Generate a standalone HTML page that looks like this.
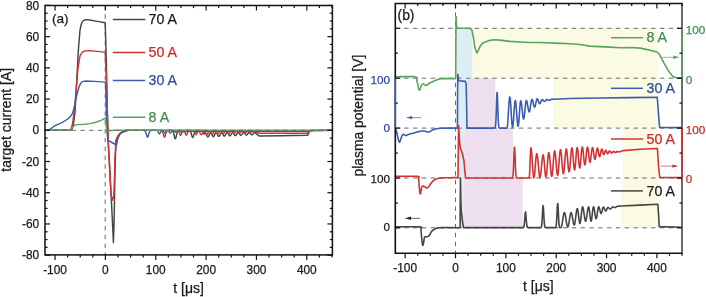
<!DOCTYPE html>
<html><head><meta charset="utf-8"><style>
html,body{margin:0;padding:0;background:#fff;width:706px;height:297px;overflow:hidden}
svg{position:absolute;left:0;top:0;font-family:"Liberation Sans", sans-serif;opacity:0.999;will-change:transform}
</style></head><body>
<svg width="706" height="297" viewBox="0 0 706 297">
<line x1="105.2" y1="5.5" x2="105.2" y2="254.9" stroke="#6a6a6a" stroke-width="1.0" stroke-dasharray="4.5 4.32"/>
<path d="M45.00,130.30 L70.50,130.30 L72.00,129.20 L73.50,124.00 L75.00,112.00 L77.00,75.00 L78.50,48.00 L80.00,30.00 L81.50,23.50 L83.00,20.80 L85.00,19.80 L88.00,19.80 L96.00,21.10 L105.20,22.80 L106.30,60.00 L107.30,110.00 L108.30,142.70 L109.30,160.00 L110.50,185.00 L111.60,205.00 L112.60,225.00 L113.40,242.60 L114.00,225.00 L114.50,200.00 L114.90,175.00 L115.50,155.00 L116.20,142.00 L117.70,136.80 L120.60,133.00 L126.00,130.80 L126.50,130.35 L127.00,130.35 L127.50,130.35 L128.00,130.35 L128.50,130.35 L129.00,130.35 L129.50,130.35 L130.00,130.35 L130.50,130.35 L131.00,130.35 L131.50,130.35 L132.00,130.35 L132.50,130.35 L133.00,130.35 L133.50,130.35 L134.00,130.35 L134.50,130.35 L135.00,130.35 L135.50,130.35 L136.00,130.35 L136.50,130.35 L137.00,130.35 L137.50,130.35 L138.00,130.35 L138.50,130.35 L139.00,130.35 L139.50,130.35 L140.00,130.35 L140.50,130.35 L141.00,130.35 L141.50,130.35 L142.00,130.35 L142.50,130.35 L143.00,130.35 L143.50,130.35 L144.00,130.35 L144.50,130.35 L145.00,130.35 L145.50,130.35 L146.00,130.35 L146.50,130.35 L147.00,130.35 L147.50,130.35 L148.00,130.35 L148.50,130.35 L149.00,130.35 L149.50,130.35 L150.00,130.35 L150.50,130.35 L151.00,130.35 L151.50,130.35 L152.00,130.35 L152.50,130.35 L153.00,130.35 L153.50,130.35 L154.00,130.35 L154.50,130.35 L155.00,130.35 L155.50,130.35 L156.00,130.35 L156.50,130.35 L157.00,130.35 L157.50,130.35 L158.00,130.35 L158.50,130.35 L159.00,130.35 L159.50,130.35 L160.00,130.35 L160.50,130.35 L161.00,130.35 L161.50,130.35 L162.00,130.35 L162.50,130.35 L163.00,130.35 L163.50,130.35 L164.00,130.35 L164.50,130.35 L165.00,130.35 L165.50,130.35 L166.00,130.35 L166.50,130.35 L167.00,130.35 L167.50,130.35 L168.00,130.35 L168.50,130.35 L169.00,130.35 L169.50,130.35 L170.00,130.35 L170.50,130.35 L171.00,130.36 L171.50,130.38 L172.00,130.47 L172.50,130.75 L173.00,131.43 L173.50,132.75 L174.00,134.74 L174.50,136.97 L175.00,138.56 L175.50,138.72 L176.00,137.37 L176.50,135.19 L177.00,133.10 L177.50,131.63 L178.00,130.84 L178.50,130.51 L179.00,130.39 L179.50,130.36 L180.00,130.35 L180.50,130.35 L181.00,130.35 L181.50,130.35 L182.00,130.35 L182.50,130.35 L183.00,130.35 L183.50,130.35 L184.00,130.35 L184.50,130.35 L185.00,130.35 L185.50,130.35 L186.00,130.35 L186.50,130.35 L187.00,130.35 L187.50,130.35 L188.00,130.35 L188.50,130.36 L189.00,130.38 L189.50,130.48 L190.00,130.77 L190.50,131.44 L191.00,132.68 L191.50,134.45 L192.00,136.30 L192.50,137.44 L193.00,137.30 L193.50,135.96 L194.00,134.07 L194.50,132.38 L195.00,131.26 L195.50,130.69 L196.00,130.45 L196.50,130.38 L197.00,130.36 L197.50,130.35 L198.00,130.35 L198.50,130.35 L199.00,130.35 L199.50,130.35 L200.00,130.35 L200.50,130.35 L201.00,130.35 L201.50,130.35 L202.00,130.35 L202.50,130.35 L203.00,130.35 L203.50,130.35 L204.00,130.35 L204.00,134.28 L204.50,133.19 L205.00,132.63 L205.50,132.77 L206.00,133.56 L206.50,134.73 L207.00,135.90 L207.50,136.71 L208.00,136.89 L208.50,136.40 L209.00,135.39 L209.50,134.18 L210.00,133.15 L210.50,132.63 L211.00,132.76 L211.50,133.50 L212.00,134.60 L212.50,135.70 L213.00,136.46 L213.50,136.63 L214.00,136.17 L214.50,135.21 L215.00,134.08 L215.50,133.12 L216.00,132.63 L216.50,132.75 L217.00,133.44 L217.50,134.47 L218.00,135.50 L218.50,136.21 L219.00,136.37 L219.50,135.93 L220.00,135.04 L220.50,133.98 L221.00,133.08 L221.50,132.63 L222.00,132.74 L222.50,133.39 L223.00,134.34 L223.50,135.30 L224.00,135.96 L224.50,136.10 L225.00,135.70 L225.50,134.87 L226.00,133.88 L226.50,133.05 L227.00,132.62 L227.50,132.73 L228.00,133.33 L228.50,134.21 L229.00,135.10 L229.50,135.71 L230.00,135.84 L230.50,135.46 L231.00,134.70 L231.50,133.79 L232.00,133.02 L232.50,132.62 L233.00,132.72 L233.50,133.27 L234.00,134.09 L234.50,134.90 L235.00,135.46 L235.50,135.58 L236.00,135.23 L236.50,134.52 L237.00,133.69 L237.50,132.98 L238.00,132.62 L238.50,132.71 L239.00,133.21 L239.50,133.96 L240.00,134.70 L240.50,135.20 L241.00,135.31 L241.50,134.99 L242.00,134.35 L242.50,133.59 L243.00,132.95 L243.50,132.62 L244.00,132.70 L244.50,133.16 L245.00,133.83 L245.50,134.50 L246.00,134.95 L246.50,135.05 L247.00,134.76 L247.50,134.18 L248.00,133.49 L248.50,132.91 L249.00,132.62 L249.50,132.69 L250.00,133.10 L250.50,133.70 L251.00,134.30 L251.50,134.70 L252.00,134.79 L252.50,134.52 L253.00,134.00 L253.50,133.39 L254.00,132.88 L254.50,132.62 L255.00,132.68 L255.50,133.04 L256.00,133.57 L259.00,136.00 L280.00,135.80 L307.50,135.30 L308.60,133.50 L309.40,131.00 L312.00,130.40 L332.40,130.30" fill="none" stroke="#454545" stroke-width="1.45" stroke-linejoin="round" stroke-linecap="round" />
<path d="M45.00,130.30 L69.40,130.30 L71.00,129.30 L72.50,124.00 L74.00,113.00 L76.00,92.00 L78.00,68.00 L80.00,56.00 L82.00,52.30 L85.00,50.90 L90.00,50.60 L100.00,51.60 L105.20,52.40 L106.20,75.00 L107.20,110.00 L108.20,142.70 L109.20,160.00 L110.30,180.00 L111.20,195.00 L112.50,200.30 L113.80,196.00 L114.40,180.00 L114.90,160.00 L115.90,140.30 L117.70,136.20 L120.60,132.70 L125.00,130.90 L125.50,130.35 L126.00,130.35 L126.50,130.35 L127.00,130.35 L127.50,130.35 L128.00,130.35 L128.50,130.35 L129.00,130.35 L129.50,130.35 L130.00,130.35 L130.50,130.35 L131.00,130.35 L131.50,130.35 L132.00,130.35 L132.50,130.35 L133.00,130.35 L133.50,130.35 L134.00,130.35 L134.50,130.35 L135.00,130.35 L135.50,130.35 L136.00,130.35 L136.50,130.35 L137.00,130.35 L137.50,130.35 L138.00,130.35 L138.50,130.35 L139.00,130.35 L139.50,130.35 L140.00,130.35 L140.50,130.35 L141.00,130.35 L141.50,130.35 L142.00,130.35 L142.50,130.35 L143.00,130.35 L143.50,130.35 L144.00,130.35 L144.50,130.35 L145.00,130.35 L145.50,130.35 L146.00,130.35 L146.50,130.35 L147.00,130.35 L147.50,130.35 L148.00,130.35 L148.50,130.35 L149.00,130.35 L149.50,130.35 L150.00,130.35 L150.50,130.35 L151.00,130.35 L151.50,130.35 L152.00,130.35 L152.50,130.35 L153.00,130.35 L153.50,130.35 L154.00,130.35 L154.50,130.35 L155.00,130.35 L155.50,130.35 L156.00,130.35 L156.50,130.35 L157.00,130.35 L157.50,130.35 L158.00,130.35 L158.50,130.35 L159.00,130.35 L159.50,130.35 L160.00,130.35 L160.50,130.36 L161.00,130.38 L161.50,130.47 L162.00,130.77 L162.50,131.50 L163.00,132.85 L163.50,134.71 L164.00,136.43 L164.50,137.15 L165.00,136.43 L165.50,134.71 L166.00,132.85 L166.50,131.50 L167.00,130.77 L167.50,130.47 L168.00,130.38 L168.50,130.36 L169.00,130.35 L169.50,130.35 L170.00,130.35 L170.50,130.35 L171.00,130.35 L171.50,130.35 L172.00,130.35 L172.50,130.35 L173.00,130.35 L173.50,130.35 L174.00,130.35 L174.50,130.35 L175.00,130.35 L175.50,130.35 L176.00,130.35 L176.50,130.35 L177.00,130.37 L177.50,130.42 L178.00,130.60 L178.50,131.05 L179.00,131.95 L179.50,133.27 L180.00,134.61 L180.50,135.33 L181.00,135.01 L181.50,133.84 L182.00,132.44 L182.50,131.36 L183.00,130.77 L183.50,130.62 L184.00,130.84 L184.50,131.49 L185.00,132.62 L185.50,133.96 L186.00,134.96 L186.50,135.07 L187.00,134.21 L187.50,132.88 L188.00,131.68 L188.50,130.91 L189.00,130.54 L189.50,130.40 L190.00,130.36 L190.50,130.35 L191.00,130.35 L191.50,130.35 L192.00,130.35 L192.50,130.35 L193.00,130.35 L193.50,130.35 L194.00,130.35 L194.50,130.35 L195.00,130.35 L195.50,130.35 L196.00,130.35 L196.00,134.72 L196.50,134.09 L197.00,133.06 L197.50,131.95 L198.00,131.11 L198.50,130.80 L199.00,131.11 L199.50,131.93 L200.00,132.99 L200.50,133.95 L201.00,134.51 L201.50,134.49 L202.00,133.90 L202.50,132.93 L203.00,131.88 L203.50,131.09 L204.00,130.80 L204.50,131.09 L205.00,131.86 L205.50,132.86 L206.00,133.76 L206.50,134.29 L207.00,134.27 L207.50,133.71 L208.00,132.80 L208.50,131.82 L209.00,131.07 L209.50,130.80 L210.00,131.07 L210.50,131.79 L211.00,132.73 L211.50,133.58 L212.00,134.07 L212.50,134.05 L213.00,133.52 L213.50,132.67 L214.00,131.75 L214.50,131.06 L215.00,130.80 L215.50,131.05 L216.00,131.73 L216.50,132.60 L217.00,133.39 L217.50,133.84 L218.00,133.82 L218.50,133.33 L219.00,132.54 L219.50,131.68 L220.00,131.04 L220.50,130.80 L221.00,131.03 L221.50,131.66 L222.00,132.47 L222.50,133.20 L223.00,133.62 L223.50,133.60 L224.00,133.14 L224.50,132.41 L225.00,131.62 L225.50,131.02 L226.00,130.80 L226.50,131.02 L227.00,131.59 L227.50,132.33 L228.00,133.01 L228.50,133.39 L229.00,133.37 L229.50,132.95 L230.00,132.28 L230.50,131.55 L231.00,131.00 L231.50,130.80 L232.00,131.00 L232.50,131.52 L233.00,132.20 L233.50,132.82 L234.00,133.17 L234.50,133.15 L235.00,132.77 L235.50,132.14 L236.00,131.48 L236.50,130.98 L237.00,130.80 L237.50,130.98 L238.00,131.46 L238.50,132.07 L239.00,132.63 L239.50,132.94 L240.00,132.92 L240.50,132.58 L241.00,132.01 L241.50,131.42 L242.00,130.97 L242.50,130.80 L243.00,130.96 L243.50,131.39 L244.00,131.94 L244.50,132.44 L245.00,132.72 L245.50,132.70 L246.00,132.39 L246.50,131.88 L247.00,131.35 L247.50,130.95 L248.00,130.80 L248.50,130.94 L249.00,131.32 L249.50,131.81 L250.00,132.25 L250.50,132.49 L251.00,132.47 L251.50,132.20 L252.00,131.75 L252.50,131.28 L253.00,130.93 L253.50,130.80 L254.00,130.93 L254.50,131.26 L255.00,131.68 L255.50,132.06 L256.00,132.27 L259.00,133.20 L280.00,133.20 L307.50,133.20 L309.00,130.80 L332.40,130.40" fill="none" stroke="#d23232" stroke-width="1.45" stroke-linejoin="round" stroke-linecap="round" />
<path d="M45.00,130.30 L47.00,130.30 L49.00,130.00 L51.00,128.60 L53.00,127.00 L55.00,125.70 L58.00,124.30 L62.00,122.60 L67.00,119.50 L70.00,117.00 L72.40,113.60 L74.00,108.30 L75.60,100.60 L77.30,93.00 L78.90,87.50 L80.50,83.60 L82.20,81.60 L86.00,81.00 L95.00,81.40 L104.80,82.10 L105.70,84.00 L106.50,118.00 L107.30,135.00 L108.00,140.30 L112.00,142.50 L116.50,145.00 L117.70,139.10 L120.00,133.80 L122.40,132.00 L126.00,131.00 L128.00,130.60 L128.50,130.35 L129.00,130.35 L129.50,130.35 L130.00,130.35 L130.50,130.35 L131.00,130.35 L131.50,130.35 L132.00,130.35 L132.50,130.35 L133.00,130.35 L133.50,130.35 L134.00,130.35 L134.50,130.35 L135.00,130.35 L135.50,130.35 L136.00,130.35 L136.50,130.35 L137.00,130.35 L137.50,130.35 L138.00,130.35 L138.50,130.35 L139.00,130.35 L139.50,130.35 L140.00,130.35 L140.50,130.35 L141.00,130.35 L141.50,130.35 L142.00,130.35 L142.50,130.35 L143.00,130.35 L143.50,130.36 L144.00,130.41 L144.50,130.55 L145.00,130.94 L145.50,131.78 L146.00,133.17 L146.50,134.95 L147.00,136.52 L147.50,137.15 L148.00,136.52 L148.50,134.95 L149.00,133.17 L149.50,131.78 L150.00,130.94 L150.50,130.55 L151.00,130.41 L151.50,130.36 L152.00,130.35 L152.50,130.35 L153.00,130.35 L153.50,130.35 L154.00,130.35 L154.50,130.35 L155.00,130.35 L155.50,130.35 L156.00,130.36 L156.50,130.39 L157.00,130.50 L157.50,130.82 L158.00,131.49 L158.50,132.51 L159.00,133.52 L159.50,133.95 L160.00,133.52 L160.50,132.53 L161.00,131.54 L161.50,130.89 L162.00,130.63 L162.50,130.68 L163.00,131.02 L163.50,131.68 L164.00,132.47 L164.50,132.94 L165.00,132.76 L165.50,132.08 L166.00,131.37 L166.50,130.93 L167.00,130.75 L167.50,130.73 L168.00,130.84 L168.50,131.13 L169.00,131.69 L169.50,132.42 L170.00,132.95 L170.50,132.91 L171.00,132.35 L171.50,131.68 L172.00,131.21 L172.50,131.01 L173.00,130.96 L173.50,130.99 L174.00,131.09 L174.50,131.32 L175.00,131.69 L175.50,132.08 L176.00,132.27 L176.50,132.13 L177.00,131.78 L177.50,131.45 L178.00,131.27 L178.50,131.21 L179.00,131.22 L179.50,131.25 L180.00,131.34 L180.50,131.51 L181.00,131.80 L181.50,132.11 L182.00,132.25 L182.50,132.11 L183.00,131.80 L183.50,131.51 L184.00,131.34 L184.50,131.27 L185.00,131.25 L185.50,131.25 L186.00,131.25 L186.50,131.25 L187.00,131.25 L187.50,131.25 L188.00,131.25 L188.50,131.25 L189.00,131.25 L189.50,131.25 L190.00,131.25 L190.50,131.25 L191.00,131.25 L191.50,131.25 L192.00,131.25 L192.50,131.25 L193.00,131.25 L193.50,131.25 L194.00,131.25 L194.50,131.25 L195.00,131.25 L195.50,131.25 L196.00,131.25 L196.50,131.25 L197.00,131.25 L197.50,131.25 L198.00,131.25 L198.50,131.25 L199.00,131.25 L199.50,131.25 L200.00,131.25 L200.50,131.25 L201.00,131.25 L201.50,131.25 L202.00,131.25 L202.50,131.25 L203.00,131.25 L203.50,131.25 L204.00,131.25 L204.50,131.25 L205.00,131.25 L205.50,131.25 L206.00,131.25 L206.50,131.25 L207.00,131.25 L207.50,131.25 L208.00,131.25 L208.50,131.25 L209.00,131.25 L209.50,131.25 L210.00,131.25 L210.50,131.25 L211.00,131.25 L211.50,131.25 L212.00,131.25 L212.50,131.25 L213.00,131.25 L213.50,131.25 L214.00,131.25 L214.50,131.25 L215.00,131.25 L215.50,131.25 L216.00,131.25 L216.50,131.25 L217.00,131.25 L217.50,131.25 L218.00,131.25 L218.50,131.25 L219.00,131.25 L219.50,131.25 L220.00,131.25 L220.50,131.25 L221.00,131.25 L221.50,131.25 L222.00,131.25 L222.50,131.25 L223.00,131.25 L223.50,131.25 L224.00,131.25 L224.50,131.25 L225.00,131.25 L225.50,131.25 L226.00,131.25 L226.50,131.25 L227.00,131.25 L227.50,131.25 L228.00,131.25 L228.50,131.25 L229.00,131.25 L229.50,131.25 L230.00,131.25 L230.50,131.25 L231.00,131.25 L231.50,131.25 L232.00,131.25 L232.50,131.25 L233.00,131.25 L233.50,131.25 L234.00,131.25 L234.50,131.25 L235.00,131.25 L235.50,131.25 L236.00,131.25 L236.50,131.25 L237.00,131.25 L237.50,131.25 L238.00,131.25 L238.50,131.25 L239.00,131.25 L239.50,131.25 L240.00,131.25 L240.50,131.25 L241.00,131.25 L241.50,131.25 L242.00,131.25 L242.50,131.25 L243.00,131.25 L243.50,131.25 L244.00,131.25 L244.50,131.25 L245.00,131.25 L245.50,131.25 L246.00,131.25 L246.50,131.25 L247.00,131.25 L247.50,131.25 L248.00,131.25 L248.50,131.25 L249.00,131.25 L249.50,131.25 L250.00,131.25 L250.50,131.25 L251.00,131.25 L251.50,131.25 L252.00,131.25 L252.50,131.25 L253.00,131.25 L253.50,131.25 L254.00,131.25 L254.50,131.25 L255.00,131.25 L255.50,131.25 L256.00,131.25 L256.50,131.25 L257.00,131.25 L257.50,131.25 L258.00,131.25 L258.50,131.25 L259.00,131.25 L259.50,131.25 L260.00,131.25 L260.50,131.25 L261.00,131.25 L261.50,131.25 L262.00,131.25 L262.50,131.25 L263.00,131.25 L263.50,131.25 L264.00,131.25 L264.50,131.25 L265.00,131.25 L265.50,131.25 L266.00,131.25 L266.50,131.25 L267.00,131.25 L267.50,131.25 L268.00,131.25 L268.50,131.25 L269.00,131.25 L269.50,131.25 L270.00,131.25 L270.50,131.25 L271.00,131.25 L271.50,131.25 L272.00,131.25 L272.50,131.25 L273.00,131.25 L273.50,131.25 L274.00,131.25 L274.50,131.25 L275.00,131.25 L275.50,131.25 L276.00,131.25 L276.50,131.25 L277.00,131.25 L277.50,131.25 L278.00,131.25 L278.50,131.25 L279.00,131.25 L279.50,131.25 L280.00,131.25 L280.50,131.25 L281.00,131.25 L281.50,131.25 L282.00,131.25 L282.50,131.25 L283.00,131.25 L283.50,131.25 L284.00,131.25 L284.50,131.25 L285.00,131.25 L285.50,131.25 L286.00,131.25 L286.50,131.25 L287.00,131.25 L287.50,131.25 L288.00,131.25 L288.50,131.25 L289.00,131.25 L289.50,131.25 L290.00,131.25 L290.50,131.25 L291.00,131.25 L291.50,131.25 L292.00,131.25 L292.50,131.25 L293.00,131.25 L293.50,131.25 L294.00,131.25 L294.50,131.25 L295.00,131.25 L295.50,131.25 L296.00,131.25 L296.50,131.25 L297.00,131.25 L297.50,131.25 L298.00,131.25 L298.50,131.25 L299.00,131.25 L299.50,131.25 L300.00,131.25 L300.50,131.25 L301.00,131.25 L301.50,131.25 L302.00,131.25 L302.50,131.25 L303.00,131.25 L303.50,131.25 L304.00,131.25 L304.50,131.25 L305.00,131.25 L305.50,131.25 L306.00,131.25 L306.50,131.25 L307.00,131.25 L307.50,131.25 L309.00,130.60 L332.40,130.30" fill="none" stroke="#3c5cb0" stroke-width="1.45" stroke-linejoin="round" stroke-linecap="round" />
<path d="M45.00,130.30 L68.60,130.30 L70.50,129.50 L72.50,127.30 L74.50,125.50 L77.00,124.60 L85.00,124.30 L90.00,123.60 L95.00,122.50 L100.00,120.80 L103.00,119.30 L104.90,118.10 L105.70,119.50 L106.20,126.00 L106.70,130.90 L110.00,130.60 L115.00,130.30 L332.40,130.30" fill="none" stroke="#5aa45e" stroke-width="1.45" stroke-linejoin="round" stroke-linecap="round" />
<line x1="45.0" y1="130.3" x2="332.4" y2="130.3" stroke="#6a6a6a" stroke-width="1.0" stroke-dasharray="4.5 4.32"/>
<line x1="112.8" y1="19.5" x2="145.3" y2="19.5" stroke="#454545" stroke-width="1.5" />
<text x="148.6" y="24.1" font-size="14.2" fill="#1a1a1a" stroke="#1a1a1a" stroke-width="0.25" text-anchor="start" >70 A</text>
<line x1="112.8" y1="52.4" x2="145.3" y2="52.4" stroke="#d23232" stroke-width="1.5" />
<text x="148.6" y="57.0" font-size="14.2" fill="#d02828" stroke="#d02828" stroke-width="0.25" text-anchor="start" >50 A</text>
<line x1="112.8" y1="80.5" x2="145.3" y2="80.5" stroke="#3c5cb0" stroke-width="1.5" />
<text x="148.6" y="85.1" font-size="14.2" fill="#2f4aa2" stroke="#2f4aa2" stroke-width="0.25" text-anchor="start" >30 A</text>
<line x1="112.8" y1="117.3" x2="145.3" y2="117.3" stroke="#5aa45e" stroke-width="1.5" />
<text x="148.6" y="121.89999999999999" font-size="14.2" fill="#3f8c46" stroke="#3f8c46" stroke-width="0.25" text-anchor="start" >8 A</text>
<text x="52.0" y="22.6" font-size="13.6" fill="#1a1a1a" stroke="#1a1a1a" stroke-width="0.25" text-anchor="start" >(a)</text>
<rect x="45.0" y="5.5" width="287.4" height="249.4" fill="none" stroke="#111111" stroke-width="1.5"/>
<line x1="45.0" y1="255.18" x2="50.0" y2="255.18" stroke="#111111" stroke-width="1.2" />
<line x1="332.4" y1="255.18" x2="327.4" y2="255.18" stroke="#111111" stroke-width="1.2" />
<line x1="45.0" y1="247.375" x2="47.6" y2="247.375" stroke="#111111" stroke-width="1.2" />
<line x1="332.4" y1="247.375" x2="329.79999999999995" y2="247.375" stroke="#111111" stroke-width="1.2" />
<line x1="45.0" y1="239.57" x2="47.6" y2="239.57" stroke="#111111" stroke-width="1.2" />
<line x1="332.4" y1="239.57" x2="329.79999999999995" y2="239.57" stroke="#111111" stroke-width="1.2" />
<line x1="45.0" y1="231.76500000000001" x2="47.6" y2="231.76500000000001" stroke="#111111" stroke-width="1.2" />
<line x1="332.4" y1="231.76500000000001" x2="329.79999999999995" y2="231.76500000000001" stroke="#111111" stroke-width="1.2" />
<line x1="45.0" y1="223.96" x2="50.0" y2="223.96" stroke="#111111" stroke-width="1.2" />
<line x1="332.4" y1="223.96" x2="327.4" y2="223.96" stroke="#111111" stroke-width="1.2" />
<line x1="45.0" y1="216.155" x2="47.6" y2="216.155" stroke="#111111" stroke-width="1.2" />
<line x1="332.4" y1="216.155" x2="329.79999999999995" y2="216.155" stroke="#111111" stroke-width="1.2" />
<line x1="45.0" y1="208.35000000000002" x2="47.6" y2="208.35000000000002" stroke="#111111" stroke-width="1.2" />
<line x1="332.4" y1="208.35000000000002" x2="329.79999999999995" y2="208.35000000000002" stroke="#111111" stroke-width="1.2" />
<line x1="45.0" y1="200.54500000000002" x2="47.6" y2="200.54500000000002" stroke="#111111" stroke-width="1.2" />
<line x1="332.4" y1="200.54500000000002" x2="329.79999999999995" y2="200.54500000000002" stroke="#111111" stroke-width="1.2" />
<line x1="45.0" y1="192.74" x2="50.0" y2="192.74" stroke="#111111" stroke-width="1.2" />
<line x1="332.4" y1="192.74" x2="327.4" y2="192.74" stroke="#111111" stroke-width="1.2" />
<line x1="45.0" y1="184.935" x2="47.6" y2="184.935" stroke="#111111" stroke-width="1.2" />
<line x1="332.4" y1="184.935" x2="329.79999999999995" y2="184.935" stroke="#111111" stroke-width="1.2" />
<line x1="45.0" y1="177.13" x2="47.6" y2="177.13" stroke="#111111" stroke-width="1.2" />
<line x1="332.4" y1="177.13" x2="329.79999999999995" y2="177.13" stroke="#111111" stroke-width="1.2" />
<line x1="45.0" y1="169.32500000000002" x2="47.6" y2="169.32500000000002" stroke="#111111" stroke-width="1.2" />
<line x1="332.4" y1="169.32500000000002" x2="329.79999999999995" y2="169.32500000000002" stroke="#111111" stroke-width="1.2" />
<line x1="45.0" y1="161.52" x2="50.0" y2="161.52" stroke="#111111" stroke-width="1.2" />
<line x1="332.4" y1="161.52" x2="327.4" y2="161.52" stroke="#111111" stroke-width="1.2" />
<line x1="45.0" y1="153.715" x2="47.6" y2="153.715" stroke="#111111" stroke-width="1.2" />
<line x1="332.4" y1="153.715" x2="329.79999999999995" y2="153.715" stroke="#111111" stroke-width="1.2" />
<line x1="45.0" y1="145.91000000000003" x2="47.6" y2="145.91000000000003" stroke="#111111" stroke-width="1.2" />
<line x1="332.4" y1="145.91000000000003" x2="329.79999999999995" y2="145.91000000000003" stroke="#111111" stroke-width="1.2" />
<line x1="45.0" y1="138.10500000000002" x2="47.6" y2="138.10500000000002" stroke="#111111" stroke-width="1.2" />
<line x1="332.4" y1="138.10500000000002" x2="329.79999999999995" y2="138.10500000000002" stroke="#111111" stroke-width="1.2" />
<line x1="45.0" y1="130.3" x2="50.0" y2="130.3" stroke="#111111" stroke-width="1.2" />
<line x1="332.4" y1="130.3" x2="327.4" y2="130.3" stroke="#111111" stroke-width="1.2" />
<line x1="45.0" y1="122.495" x2="47.6" y2="122.495" stroke="#111111" stroke-width="1.2" />
<line x1="332.4" y1="122.495" x2="329.79999999999995" y2="122.495" stroke="#111111" stroke-width="1.2" />
<line x1="45.0" y1="114.69000000000001" x2="47.6" y2="114.69000000000001" stroke="#111111" stroke-width="1.2" />
<line x1="332.4" y1="114.69000000000001" x2="329.79999999999995" y2="114.69000000000001" stroke="#111111" stroke-width="1.2" />
<line x1="45.0" y1="106.88500000000002" x2="47.6" y2="106.88500000000002" stroke="#111111" stroke-width="1.2" />
<line x1="332.4" y1="106.88500000000002" x2="329.79999999999995" y2="106.88500000000002" stroke="#111111" stroke-width="1.2" />
<line x1="45.0" y1="99.08000000000001" x2="50.0" y2="99.08000000000001" stroke="#111111" stroke-width="1.2" />
<line x1="332.4" y1="99.08000000000001" x2="327.4" y2="99.08000000000001" stroke="#111111" stroke-width="1.2" />
<line x1="45.0" y1="91.275" x2="47.6" y2="91.275" stroke="#111111" stroke-width="1.2" />
<line x1="332.4" y1="91.275" x2="329.79999999999995" y2="91.275" stroke="#111111" stroke-width="1.2" />
<line x1="45.0" y1="83.47000000000001" x2="47.6" y2="83.47000000000001" stroke="#111111" stroke-width="1.2" />
<line x1="332.4" y1="83.47000000000001" x2="329.79999999999995" y2="83.47000000000001" stroke="#111111" stroke-width="1.2" />
<line x1="45.0" y1="75.66500000000002" x2="47.6" y2="75.66500000000002" stroke="#111111" stroke-width="1.2" />
<line x1="332.4" y1="75.66500000000002" x2="329.79999999999995" y2="75.66500000000002" stroke="#111111" stroke-width="1.2" />
<line x1="45.0" y1="67.86000000000001" x2="50.0" y2="67.86000000000001" stroke="#111111" stroke-width="1.2" />
<line x1="332.4" y1="67.86000000000001" x2="327.4" y2="67.86000000000001" stroke="#111111" stroke-width="1.2" />
<line x1="45.0" y1="60.05500000000001" x2="47.6" y2="60.05500000000001" stroke="#111111" stroke-width="1.2" />
<line x1="332.4" y1="60.05500000000001" x2="329.79999999999995" y2="60.05500000000001" stroke="#111111" stroke-width="1.2" />
<line x1="45.0" y1="52.250000000000014" x2="47.6" y2="52.250000000000014" stroke="#111111" stroke-width="1.2" />
<line x1="332.4" y1="52.250000000000014" x2="329.79999999999995" y2="52.250000000000014" stroke="#111111" stroke-width="1.2" />
<line x1="45.0" y1="44.44500000000002" x2="47.6" y2="44.44500000000002" stroke="#111111" stroke-width="1.2" />
<line x1="332.4" y1="44.44500000000002" x2="329.79999999999995" y2="44.44500000000002" stroke="#111111" stroke-width="1.2" />
<line x1="45.0" y1="36.640000000000015" x2="50.0" y2="36.640000000000015" stroke="#111111" stroke-width="1.2" />
<line x1="332.4" y1="36.640000000000015" x2="327.4" y2="36.640000000000015" stroke="#111111" stroke-width="1.2" />
<line x1="45.0" y1="28.835000000000008" x2="47.6" y2="28.835000000000008" stroke="#111111" stroke-width="1.2" />
<line x1="332.4" y1="28.835000000000008" x2="329.79999999999995" y2="28.835000000000008" stroke="#111111" stroke-width="1.2" />
<line x1="45.0" y1="21.030000000000015" x2="47.6" y2="21.030000000000015" stroke="#111111" stroke-width="1.2" />
<line x1="332.4" y1="21.030000000000015" x2="329.79999999999995" y2="21.030000000000015" stroke="#111111" stroke-width="1.2" />
<line x1="45.0" y1="13.225000000000023" x2="47.6" y2="13.225000000000023" stroke="#111111" stroke-width="1.2" />
<line x1="332.4" y1="13.225000000000023" x2="329.79999999999995" y2="13.225000000000023" stroke="#111111" stroke-width="1.2" />
<line x1="45.0" y1="5.420000000000016" x2="50.0" y2="5.420000000000016" stroke="#111111" stroke-width="1.2" />
<line x1="332.4" y1="5.420000000000016" x2="327.4" y2="5.420000000000016" stroke="#111111" stroke-width="1.2" />
<line x1="55.05000000000001" y1="254.9" x2="55.05000000000001" y2="259.9" stroke="#111111" stroke-width="1.2" />
<line x1="55.05000000000001" y1="5.5" x2="55.05000000000001" y2="10.5" stroke="#111111" stroke-width="1.2" />
<line x1="67.63750000000002" y1="254.9" x2="67.63750000000002" y2="257.5" stroke="#111111" stroke-width="1.2" />
<line x1="67.63750000000002" y1="5.5" x2="67.63750000000002" y2="8.1" stroke="#111111" stroke-width="1.2" />
<line x1="80.22500000000001" y1="254.9" x2="80.22500000000001" y2="257.5" stroke="#111111" stroke-width="1.2" />
<line x1="80.22500000000001" y1="5.5" x2="80.22500000000001" y2="8.1" stroke="#111111" stroke-width="1.2" />
<line x1="92.8125" y1="254.9" x2="92.8125" y2="257.5" stroke="#111111" stroke-width="1.2" />
<line x1="92.8125" y1="5.5" x2="92.8125" y2="8.1" stroke="#111111" stroke-width="1.2" />
<line x1="105.4" y1="254.9" x2="105.4" y2="259.9" stroke="#111111" stroke-width="1.2" />
<line x1="105.4" y1="5.5" x2="105.4" y2="10.5" stroke="#111111" stroke-width="1.2" />
<line x1="117.98750000000001" y1="254.9" x2="117.98750000000001" y2="257.5" stroke="#111111" stroke-width="1.2" />
<line x1="117.98750000000001" y1="5.5" x2="117.98750000000001" y2="8.1" stroke="#111111" stroke-width="1.2" />
<line x1="130.575" y1="254.9" x2="130.575" y2="257.5" stroke="#111111" stroke-width="1.2" />
<line x1="130.575" y1="5.5" x2="130.575" y2="8.1" stroke="#111111" stroke-width="1.2" />
<line x1="143.1625" y1="254.9" x2="143.1625" y2="257.5" stroke="#111111" stroke-width="1.2" />
<line x1="143.1625" y1="5.5" x2="143.1625" y2="8.1" stroke="#111111" stroke-width="1.2" />
<line x1="155.75" y1="254.9" x2="155.75" y2="259.9" stroke="#111111" stroke-width="1.2" />
<line x1="155.75" y1="5.5" x2="155.75" y2="10.5" stroke="#111111" stroke-width="1.2" />
<line x1="168.3375" y1="254.9" x2="168.3375" y2="257.5" stroke="#111111" stroke-width="1.2" />
<line x1="168.3375" y1="5.5" x2="168.3375" y2="8.1" stroke="#111111" stroke-width="1.2" />
<line x1="180.925" y1="254.9" x2="180.925" y2="257.5" stroke="#111111" stroke-width="1.2" />
<line x1="180.925" y1="5.5" x2="180.925" y2="8.1" stroke="#111111" stroke-width="1.2" />
<line x1="193.5125" y1="254.9" x2="193.5125" y2="257.5" stroke="#111111" stroke-width="1.2" />
<line x1="193.5125" y1="5.5" x2="193.5125" y2="8.1" stroke="#111111" stroke-width="1.2" />
<line x1="206.1" y1="254.9" x2="206.1" y2="259.9" stroke="#111111" stroke-width="1.2" />
<line x1="206.1" y1="5.5" x2="206.1" y2="10.5" stroke="#111111" stroke-width="1.2" />
<line x1="218.6875" y1="254.9" x2="218.6875" y2="257.5" stroke="#111111" stroke-width="1.2" />
<line x1="218.6875" y1="5.5" x2="218.6875" y2="8.1" stroke="#111111" stroke-width="1.2" />
<line x1="231.27499999999998" y1="254.9" x2="231.27499999999998" y2="257.5" stroke="#111111" stroke-width="1.2" />
<line x1="231.27499999999998" y1="5.5" x2="231.27499999999998" y2="8.1" stroke="#111111" stroke-width="1.2" />
<line x1="243.86249999999998" y1="254.9" x2="243.86249999999998" y2="257.5" stroke="#111111" stroke-width="1.2" />
<line x1="243.86249999999998" y1="5.5" x2="243.86249999999998" y2="8.1" stroke="#111111" stroke-width="1.2" />
<line x1="256.45" y1="254.9" x2="256.45" y2="259.9" stroke="#111111" stroke-width="1.2" />
<line x1="256.45" y1="5.5" x2="256.45" y2="10.5" stroke="#111111" stroke-width="1.2" />
<line x1="269.0375" y1="254.9" x2="269.0375" y2="257.5" stroke="#111111" stroke-width="1.2" />
<line x1="269.0375" y1="5.5" x2="269.0375" y2="8.1" stroke="#111111" stroke-width="1.2" />
<line x1="281.625" y1="254.9" x2="281.625" y2="257.5" stroke="#111111" stroke-width="1.2" />
<line x1="281.625" y1="5.5" x2="281.625" y2="8.1" stroke="#111111" stroke-width="1.2" />
<line x1="294.2125" y1="254.9" x2="294.2125" y2="257.5" stroke="#111111" stroke-width="1.2" />
<line x1="294.2125" y1="5.5" x2="294.2125" y2="8.1" stroke="#111111" stroke-width="1.2" />
<line x1="306.79999999999995" y1="254.9" x2="306.79999999999995" y2="259.9" stroke="#111111" stroke-width="1.2" />
<line x1="306.79999999999995" y1="5.5" x2="306.79999999999995" y2="10.5" stroke="#111111" stroke-width="1.2" />
<line x1="319.3875" y1="254.9" x2="319.3875" y2="257.5" stroke="#111111" stroke-width="1.2" />
<line x1="319.3875" y1="5.5" x2="319.3875" y2="8.1" stroke="#111111" stroke-width="1.2" />
<line x1="331.975" y1="254.9" x2="331.975" y2="257.5" stroke="#111111" stroke-width="1.2" />
<line x1="331.975" y1="5.5" x2="331.975" y2="8.1" stroke="#111111" stroke-width="1.2" />
<text x="39.2" y="259.28000000000003" font-size="11.9" fill="#1a1a1a" stroke="#1a1a1a" stroke-width="0.25" text-anchor="end" >-80</text>
<text x="39.2" y="228.06" font-size="11.9" fill="#1a1a1a" stroke="#1a1a1a" stroke-width="0.25" text-anchor="end" >-60</text>
<text x="39.2" y="196.84" font-size="11.9" fill="#1a1a1a" stroke="#1a1a1a" stroke-width="0.25" text-anchor="end" >-40</text>
<text x="39.2" y="165.62" font-size="11.9" fill="#1a1a1a" stroke="#1a1a1a" stroke-width="0.25" text-anchor="end" >-20</text>
<text x="39.2" y="134.4" font-size="11.9" fill="#1a1a1a" stroke="#1a1a1a" stroke-width="0.25" text-anchor="end" >0</text>
<text x="39.2" y="103.18" font-size="11.9" fill="#1a1a1a" stroke="#1a1a1a" stroke-width="0.25" text-anchor="end" >20</text>
<text x="39.2" y="71.96000000000001" font-size="11.9" fill="#1a1a1a" stroke="#1a1a1a" stroke-width="0.25" text-anchor="end" >40</text>
<text x="39.2" y="40.740000000000016" font-size="11.9" fill="#1a1a1a" stroke="#1a1a1a" stroke-width="0.25" text-anchor="end" >60</text>
<text x="39.2" y="9.520000000000016" font-size="11.9" fill="#1a1a1a" stroke="#1a1a1a" stroke-width="0.25" text-anchor="end" >80</text>
<text x="55.05000000000001" y="274.1" font-size="11.9" fill="#1a1a1a" stroke="#1a1a1a" stroke-width="0.25" text-anchor="middle" >-100</text>
<text x="105.4" y="274.1" font-size="11.9" fill="#1a1a1a" stroke="#1a1a1a" stroke-width="0.25" text-anchor="middle" >0</text>
<text x="155.75" y="274.1" font-size="11.9" fill="#1a1a1a" stroke="#1a1a1a" stroke-width="0.25" text-anchor="middle" >100</text>
<text x="206.1" y="274.1" font-size="11.9" fill="#1a1a1a" stroke="#1a1a1a" stroke-width="0.25" text-anchor="middle" >200</text>
<text x="256.45" y="274.1" font-size="11.9" fill="#1a1a1a" stroke="#1a1a1a" stroke-width="0.25" text-anchor="middle" >300</text>
<text x="306.79999999999995" y="274.1" font-size="11.9" fill="#1a1a1a" stroke="#1a1a1a" stroke-width="0.25" text-anchor="middle" >400</text>
<text x="188.6" y="292.9" font-size="14.0" fill="#1a1a1a" stroke="#1a1a1a" stroke-width="0.25" text-anchor="middle" >t [&#956;s]</text>
<text transform="translate(11.3,119.8) rotate(-90)" font-size="13.95" fill="#1a1a1a" stroke="#1a1a1a" stroke-width="0.25" text-anchor="middle">target current [A]</text>
<rect x="456.3" y="28.3" width="16.19999999999999" height="50" fill="#dcedf4"/>
<rect x="472.5" y="28.3" width="185.70000000000005" height="50" fill="#fbfae2"/>
<rect x="457.7" y="78.2" width="10.100000000000023" height="50" fill="#dcedf4"/>
<rect x="467.8" y="78.2" width="27.599999999999966" height="50" fill="#eddff0"/>
<rect x="553.0" y="78.2" width="105.0" height="50" fill="#fbfae2"/>
<rect x="459.2" y="128.1" width="5.0" height="50" fill="#dcedf4"/>
<rect x="464.2" y="128.1" width="48.69999999999999" height="50" fill="#eddff0"/>
<rect x="623.0" y="128.1" width="34.60000000000002" height="50" fill="#fbfae2"/>
<rect x="460.6" y="178.0" width="3.099999999999966" height="50" fill="#dcedf4"/>
<rect x="463.7" y="178.0" width="59.099999999999966" height="50" fill="#eddff0"/>
<rect x="621.3" y="178.0" width="36.30000000000007" height="50" fill="#fbfae2"/>
<line x1="395.3" y1="28.3" x2="682.0" y2="28.3" stroke="#6a6a6a" stroke-width="1.0" stroke-dasharray="4.5 4.32"/>
<line x1="395.3" y1="78.2" x2="682.0" y2="78.2" stroke="#6a6a6a" stroke-width="1.0" stroke-dasharray="4.5 4.32"/>
<line x1="395.3" y1="128.1" x2="682.0" y2="128.1" stroke="#6a6a6a" stroke-width="1.0" stroke-dasharray="4.5 4.32"/>
<line x1="395.3" y1="178.0" x2="682.0" y2="178.0" stroke="#6a6a6a" stroke-width="1.0" stroke-dasharray="4.5 4.32"/>
<line x1="395.3" y1="227.8" x2="682.0" y2="227.8" stroke="#6a6a6a" stroke-width="1.0" stroke-dasharray="4.5 4.32"/>
<line x1="455.5" y1="3.5" x2="455.5" y2="253.2" stroke="#6a6a6a" stroke-width="1.0" stroke-dasharray="4.5 4.32"/>
<path d="M395.30,76.80 L397.65,76.76 L401.07,76.67 L405.04,76.58 L409.03,76.54 L412.52,76.60 L415.00,76.80 L416.34,77.15 L416.94,77.61 L417.04,78.16 L416.89,78.80 L416.73,79.52 L416.80,80.30 L417.06,81.21 L417.31,82.26 L417.55,83.39 L417.78,84.52 L417.99,85.58 L418.20,86.50 L418.39,87.32 L418.56,88.12 L418.72,88.84 L418.87,89.46 L419.03,89.92 L419.20,90.20 L419.38,90.25 L419.56,90.09 L419.74,89.78 L419.92,89.38 L420.11,88.93 L420.30,88.50 L420.49,88.03 L420.67,87.48 L420.86,86.88 L421.05,86.29 L421.26,85.75 L421.50,85.30 L421.76,84.93 L422.03,84.59 L422.32,84.30 L422.63,84.08 L422.96,83.94 L423.30,83.90 L423.67,84.03 L424.06,84.32 L424.47,84.69 L424.89,85.07 L425.30,85.37 L425.70,85.50 L426.09,85.45 L426.47,85.29 L426.85,85.04 L427.23,84.76 L427.61,84.46 L428.00,84.20 L428.37,83.97 L428.71,83.74 L429.06,83.50 L429.43,83.25 L429.87,82.99 L430.40,82.70 L431.04,82.38 L431.76,82.03 L432.55,81.66 L433.37,81.29 L434.20,80.93 L435.00,80.60 L435.79,80.28 L436.59,79.95 L437.39,79.64 L438.20,79.35 L439.00,79.10 L439.80,78.90 L440.52,78.77 L441.15,78.69 L441.77,78.64 L442.49,78.63 L443.36,78.62 L444.50,78.60 L446.07,78.58 L448.05,78.58 L450.19,78.58 L452.27,78.59 L454.05,78.60 L455.30,78.60 L455.70,78.40 L455.90,40.00 L456.10,16.50 L456.50,26.00 L457.20,28.00 L465.00,28.20 L470.50,28.40 L472.00,30.50 L473.50,38.00 L475.00,48.00 L476.80,53.00 L478.50,50.00 L480.50,45.50 L482.70,43.10 L486.00,41.80 L489.50,40.40 L495.00,39.80 L500.00,40.10 L510.00,41.40 L520.00,42.00 L530.00,42.50 L540.00,42.50 L555.00,43.10 L570.00,43.80 L580.00,44.50 L590.00,46.10 L610.00,47.10 L620.00,47.80 L632.00,47.50 L640.00,48.10 L645.00,49.10 L650.00,50.20 L655.00,51.50 L657.50,52.30 L659.00,53.80 L661.00,57.50 L663.60,62.40 L668.30,70.60 L671.80,75.40 L674.00,77.10 L676.00,77.70 L682.00,77.70" fill="none" stroke="#5aa45e" stroke-width="1.6" stroke-linejoin="round" stroke-linecap="round" />
<path d="M395.30,128.00 L395.46,128.46 L395.69,129.07 L395.96,129.81 L396.24,130.65 L396.53,131.55 L396.80,132.50 L397.05,133.57 L397.31,134.81 L397.57,136.11 L397.82,137.39 L398.07,138.55 L398.30,139.50 L398.52,140.26 L398.72,140.92 L398.92,141.46 L399.11,141.86 L399.30,142.11 L399.50,142.20 L399.70,142.08 L399.89,141.75 L400.09,141.27 L400.29,140.70 L400.49,140.09 L400.70,139.50 L400.92,138.88 L401.14,138.16 L401.37,137.40 L401.60,136.67 L401.85,136.01 L402.10,135.50 L402.36,135.12 L402.64,134.84 L402.93,134.63 L403.21,134.50 L403.51,134.42 L403.80,134.40 L404.07,134.48 L404.33,134.69 L404.58,134.96 L404.86,135.23 L405.19,135.43 L405.60,135.50 L406.08,135.42 L406.63,135.24 L407.22,134.99 L407.85,134.71 L408.52,134.44 L409.20,134.20 L409.89,134.00 L410.60,133.82 L411.34,133.64 L412.12,133.45 L412.97,133.24 L413.90,133.00 L414.97,132.70 L416.19,132.34 L417.47,131.97 L418.73,131.61 L419.90,131.31 L420.90,131.10 L421.69,130.99 L422.33,130.96 L422.88,130.98 L423.39,131.04 L423.91,131.12 L424.50,131.20 L425.17,131.31 L425.89,131.49 L426.63,131.67 L427.34,131.85 L428.01,131.97 L428.60,132.00 L429.09,131.93 L429.51,131.79 L429.88,131.59 L430.23,131.37 L430.59,131.13 L431.00,130.90 L431.42,130.67 L431.82,130.41 L432.23,130.15 L432.69,129.89 L433.24,129.63 L433.90,129.40 L434.66,129.18 L435.49,128.97 L436.39,128.77 L437.40,128.59 L438.53,128.43 L439.80,128.30 L441.37,128.21 L443.26,128.16 L445.27,128.13 L447.20,128.12 L448.84,128.11 L450.00,128.10 L457.40,128.10 L457.60,90.00 L457.80,74.30 L458.40,79.50 L459.20,80.80 L465.20,81.40 L466.20,84.00 L466.70,110.00 L467.00,128.10 L494.00,128.10 L494.20,128.10 L494.40,128.09 L494.60,128.06 L494.80,128.00 L495.00,127.83 L495.20,127.44 L495.40,126.64 L495.60,125.12 L495.80,122.57 L496.00,118.68 L496.20,113.43 L496.40,107.18 L496.60,100.81 L496.80,95.52 L497.00,92.50 L497.20,92.50 L497.40,95.52 L497.60,100.81 L497.80,107.18 L498.00,113.43 L498.20,118.68 L498.40,122.57 L498.60,125.12 L498.80,126.64 L499.00,127.44 L499.20,127.83 L499.40,128.00 L499.60,128.06 L499.80,128.09 L500.00,128.10 L500.20,128.10 L500.40,128.10 L507.00,128.10 L507.31,127.16 L507.62,124.45 L507.93,120.30 L508.24,115.21 L508.56,109.79 L508.87,104.70 L509.18,100.55 L509.49,97.84 L509.80,96.90 L510.11,97.81 L510.41,100.44 L510.72,104.48 L511.02,109.42 L511.33,114.68 L511.63,119.62 L511.94,123.66 L512.24,126.29 L512.55,127.20 L512.86,126.40 L513.16,124.09 L513.47,120.55 L513.77,116.21 L514.08,111.59 L514.38,107.25 L514.69,103.71 L514.99,101.40 L515.30,100.60 L515.61,101.37 L515.91,103.59 L516.22,107.00 L516.52,111.18 L516.83,115.62 L517.13,119.80 L517.44,123.21 L517.74,125.43 L518.05,126.20 L518.36,125.43 L518.66,123.23 L518.97,119.85 L519.27,115.71 L519.58,111.29 L519.88,107.15 L520.19,103.77 L520.49,101.57 L520.80,100.80 L521.11,101.35 L521.42,102.93 L521.73,105.35 L522.04,108.32 L522.36,111.48 L522.67,114.45 L522.98,116.87 L523.29,118.45 L523.60,119.00 L523.91,118.44 L524.22,116.84 L524.53,114.38 L524.84,111.36 L525.16,108.14 L525.47,105.12 L525.78,102.66 L526.09,101.06 L526.40,100.50 L526.71,100.84 L527.02,101.83 L527.33,103.35 L527.64,105.21 L527.96,107.19 L528.27,109.05 L528.58,110.57 L528.89,111.56 L529.20,111.90 L529.51,111.52 L529.82,110.44 L530.13,108.78 L530.44,106.74 L530.76,104.56 L531.07,102.53 L531.38,100.86 L531.69,99.78 L532.00,99.40 L532.33,99.69 L532.65,100.53 L532.98,101.78 L533.30,103.25 L533.62,104.72 L533.95,105.97 L534.27,106.81 L534.60,107.10 L534.93,106.78 L535.25,105.88 L535.58,104.54 L535.90,102.95 L536.23,101.36 L536.55,100.02 L536.88,99.12 L537.20,98.80 L537.51,98.99 L537.83,99.52 L538.14,100.31 L538.45,101.25 L538.76,102.19 L539.08,102.98 L539.39,103.51 L539.70,103.70 L540.01,103.54 L540.33,103.10 L540.64,102.43 L540.95,101.65 L541.26,100.87 L541.58,100.20 L541.89,99.76 L542.20,99.60 L542.54,99.69 L542.87,99.94 L543.21,100.30 L543.54,100.70 L543.88,101.06 L544.21,101.31 L544.55,101.40 L544.89,101.31 L545.22,101.04 L545.56,100.66 L545.89,100.24 L546.23,99.86 L546.56,99.59 L546.90,99.50 L547.23,99.54 L547.56,99.67 L547.89,99.85 L548.21,100.05 L548.54,100.23 L548.87,100.36 L549.20,100.40 L549.53,100.35 L549.86,100.19 L550.19,99.97 L550.51,99.73 L550.84,99.51 L551.17,99.35 L551.50,99.30 L560.00,99.00 L570.00,98.50 L600.00,98.00 L630.00,97.60 L657.30,97.30 L658.20,110.00 L659.60,127.40 L682.00,127.60" fill="none" stroke="#3c5cb0" stroke-width="1.6" stroke-linejoin="round" stroke-linecap="round" />
<path d="M395.30,176.40 L397.89,176.38 L401.67,176.32 L406.06,176.27 L410.46,176.24 L414.30,176.28 L417.00,176.40 L418.43,176.55 L419.02,176.71 L419.06,176.92 L418.80,177.25 L418.52,177.76 L418.50,178.50 L418.67,179.57 L418.82,180.93 L418.95,182.46 L419.07,184.06 L419.18,185.61 L419.30,187.00 L419.42,188.32 L419.54,189.68 L419.65,190.99 L419.76,192.16 L419.88,193.09 L420.00,193.70 L420.13,193.93 L420.26,193.85 L420.39,193.53 L420.53,193.06 L420.67,192.53 L420.80,192.00 L420.93,191.42 L421.06,190.70 L421.19,189.91 L421.32,189.11 L421.46,188.39 L421.60,187.80 L421.74,187.33 L421.88,186.93 L422.03,186.59 L422.19,186.33 L422.37,186.13 L422.60,186.00 L422.87,185.97 L423.19,186.03 L423.53,186.16 L423.88,186.33 L424.24,186.52 L424.60,186.70 L424.96,186.92 L425.32,187.20 L425.69,187.51 L426.06,187.77 L426.43,187.96 L426.80,188.00 L427.17,187.89 L427.54,187.67 L427.91,187.37 L428.28,187.00 L428.64,186.61 L429.00,186.20 L429.33,185.77 L429.65,185.29 L429.96,184.77 L430.27,184.24 L430.62,183.71 L431.00,183.20 L431.43,182.69 L431.91,182.17 L432.41,181.65 L432.92,181.15 L433.42,180.70 L433.90,180.30 L434.34,179.97 L434.76,179.70 L435.17,179.47 L435.59,179.27 L436.03,179.08 L436.50,178.90 L436.99,178.73 L437.48,178.57 L437.99,178.43 L438.53,178.31 L439.13,178.20 L439.80,178.10 L440.49,178.02 L441.18,177.96 L441.92,177.91 L442.77,177.87 L443.78,177.84 L445.00,177.80 L446.62,177.76 L448.64,177.72 L450.82,177.68 L452.93,177.65 L454.74,177.62 L456.00,177.60 L458.00,177.60 L458.60,125.50 L459.60,142.00 L460.50,148.50 L462.50,154.00 L464.00,161.00 L464.90,172.00 L465.60,178.00 L511.00,178.00 L511.20,178.00 L511.40,178.00 L511.60,178.00 L511.80,177.99 L512.00,177.97 L512.20,177.91 L512.40,177.77 L512.60,177.43 L512.80,176.74 L513.00,175.44 L513.20,173.23 L513.40,169.89 L513.60,165.36 L513.80,159.99 L514.00,154.50 L514.20,149.94 L514.40,147.34 L514.60,147.34 L514.80,149.94 L515.00,154.50 L515.20,159.99 L515.40,165.36 L515.60,169.89 L515.80,173.23 L516.00,175.44 L516.20,176.74 L516.40,177.43 L516.60,177.77 L516.80,177.91 L517.00,177.97 L517.20,177.99 L517.40,178.00 L517.60,178.00 L517.80,178.00 L529.00,178.00 L529.20,178.00 L529.54,175.12 L529.88,167.57 L530.22,158.23 L530.56,150.68 L530.90,147.80 L531.23,148.70 L531.56,151.31 L531.88,155.30 L532.21,160.20 L532.54,165.40 L532.87,170.30 L533.19,174.29 L533.52,176.90 L533.85,177.80 L534.18,177.07 L534.51,174.98 L534.83,171.78 L535.16,167.84 L535.49,163.66 L535.82,159.72 L536.14,156.52 L536.47,154.43 L536.80,153.70 L537.12,154.28 L537.43,155.96 L537.75,158.58 L538.06,161.89 L538.38,165.55 L538.69,169.21 L539.00,172.52 L539.32,175.14 L539.63,176.82 L539.95,177.40 L540.27,176.85 L540.58,175.24 L540.89,172.74 L541.21,169.59 L541.53,166.10 L541.84,162.61 L542.15,159.46 L542.47,156.96 L542.79,155.35 L543.10,154.80 L543.42,155.47 L543.73,157.40 L544.05,160.35 L544.37,163.97 L544.68,167.83 L545.00,171.45 L545.32,174.40 L545.63,176.33 L545.95,177.00 L546.27,176.26 L546.58,174.13 L546.90,170.88 L547.22,166.88 L547.53,162.62 L547.85,158.62 L548.17,155.37 L548.48,153.24 L548.80,152.50 L549.13,153.22 L549.46,155.31 L549.78,158.50 L550.11,162.42 L550.44,166.58 L550.77,170.50 L551.09,173.69 L551.42,175.78 L551.75,176.50 L552.08,175.73 L552.41,173.51 L552.73,170.10 L553.06,165.92 L553.39,161.48 L553.72,157.30 L554.04,153.89 L554.37,151.67 L554.70,150.90 L555.02,151.64 L555.34,153.78 L555.67,157.05 L555.99,161.06 L556.31,165.34 L556.63,169.35 L556.96,172.62 L557.28,174.76 L557.60,175.50 L557.92,174.72 L558.24,172.48 L558.57,169.05 L558.89,164.84 L559.21,160.36 L559.53,156.15 L559.86,152.72 L560.18,150.48 L560.50,149.70 L560.82,150.42 L561.14,152.50 L561.47,155.67 L561.79,159.57 L562.11,163.73 L562.43,167.62 L562.76,170.80 L563.08,172.88 L563.40,173.60 L563.72,172.86 L564.04,170.71 L564.37,167.43 L564.69,163.39 L565.01,159.11 L565.33,155.08 L565.66,151.79 L565.98,149.64 L566.30,148.90 L566.61,149.59 L566.92,151.58 L567.23,154.62 L567.54,158.36 L567.86,162.34 L568.17,166.08 L568.48,169.12 L568.79,171.11 L569.10,171.80 L569.41,171.08 L569.72,168.99 L570.03,165.80 L570.34,161.88 L570.66,157.72 L570.97,153.80 L571.28,150.61 L571.59,148.52 L571.90,147.80 L572.23,148.64 L572.56,151.05 L572.89,154.65 L573.22,158.90 L573.56,163.15 L573.89,166.75 L574.22,169.16 L574.55,170.00 L574.88,169.14 L575.21,166.70 L575.54,163.06 L575.88,158.75 L576.21,154.44 L576.54,150.80 L576.87,148.36 L577.20,147.50 L577.52,148.28 L577.84,150.50 L578.16,153.83 L578.48,157.75 L578.79,161.67 L579.11,165.00 L579.43,167.22 L579.75,168.00 L580.07,167.20 L580.39,164.92 L580.71,161.52 L581.02,157.50 L581.34,153.48 L581.66,150.08 L581.98,147.80 L582.30,147.00 L582.62,147.69 L582.95,149.64 L583.27,152.56 L583.60,156.00 L583.92,159.44 L584.25,162.36 L584.57,164.31 L584.90,165.00 L585.23,164.31 L585.55,162.36 L585.88,159.44 L586.20,156.00 L586.52,152.56 L586.85,149.64 L587.17,147.69 L587.50,147.00 L587.81,147.59 L588.12,149.27 L588.44,151.78 L588.75,154.75 L589.06,157.72 L589.38,160.23 L589.69,161.91 L590.00,162.50 L590.31,161.93 L590.62,160.30 L590.94,157.87 L591.25,155.00 L591.56,152.13 L591.88,149.70 L592.19,148.07 L592.50,147.50 L592.81,147.95 L593.11,149.24 L593.42,151.17 L593.73,153.45 L594.03,155.73 L594.34,157.66 L594.64,158.95 L594.95,159.40 L595.26,158.97 L595.56,157.73 L595.87,155.88 L596.17,153.70 L596.48,151.52 L596.79,149.67 L597.09,148.43 L597.40,148.00 L597.71,148.43 L598.03,149.64 L598.34,151.38 L598.66,153.32 L598.97,155.06 L599.29,156.27 L599.60,156.70 L599.91,156.32 L600.23,155.25 L600.54,153.71 L600.86,151.99 L601.17,150.45 L601.49,149.38 L601.80,149.00 L602.12,149.38 L602.45,150.40 L602.77,151.80 L603.10,153.20 L603.42,154.22 L603.75,154.60 L604.08,154.31 L604.40,153.53 L604.73,152.45 L605.05,151.38 L605.38,150.59 L605.70,150.30 L606.03,150.53 L606.35,151.18 L606.68,152.05 L607.00,152.93 L607.33,153.57 L607.65,153.80 L607.98,153.61 L608.30,153.10 L608.62,152.40 L608.95,151.70 L609.28,151.19 L609.60,151.00 L609.92,151.13 L610.25,151.50 L610.58,152.00 L610.90,152.50 L611.22,152.87 L611.55,153.00 L611.88,152.90 L612.20,152.62 L612.52,152.25 L612.85,151.88 L613.17,151.60 L613.50,151.50 L613.83,151.57 L614.15,151.75 L614.48,152.00 L614.80,152.25 L615.12,152.43 L615.45,152.50 L615.78,152.43 L616.10,152.25 L616.42,152.00 L616.75,151.75 L617.08,151.57 L617.40,151.50 L617.70,151.53 L618.00,151.62 L618.30,151.75 L618.60,151.88 L618.90,151.97 L619.20,152.00 L619.56,151.92 L619.92,151.72 L620.28,151.48 L620.64,151.28 L621.00,151.20 L621.31,151.18 L621.62,151.11 L621.94,151.01 L622.25,150.90 L622.56,150.79 L622.88,150.69 L623.19,150.62 L623.50,150.60 L640.00,149.20 L657.40,148.50 L658.50,165.00 L659.70,177.40 L682.00,177.60" fill="none" stroke="#d23232" stroke-width="1.6" stroke-linejoin="round" stroke-linecap="round" />
<path d="M395.30,226.90 L398.20,226.87 L402.42,226.80 L407.31,226.74 L412.23,226.71 L416.51,226.75 L419.50,226.90 L421.06,227.11 L421.68,227.36 L421.66,227.67 L421.32,228.10 L420.97,228.70 L420.90,229.50 L421.07,230.59 L421.20,231.94 L421.32,233.46 L421.44,235.04 L421.56,236.58 L421.70,238.00 L421.86,239.41 L422.02,240.91 L422.19,242.39 L422.36,243.70 L422.53,244.71 L422.70,245.30 L422.87,245.38 L423.04,245.04 L423.21,244.41 L423.37,243.60 L423.54,242.76 L423.70,242.00 L423.84,241.24 L423.96,240.35 L424.07,239.42 L424.21,238.53 L424.38,237.76 L424.60,237.20 L424.89,236.89 L425.23,236.77 L425.61,236.77 L426.00,236.83 L426.41,236.86 L426.80,236.80 L427.19,236.68 L427.59,236.57 L427.99,236.43 L428.39,236.24 L428.80,235.98 L429.20,235.60 L429.59,235.07 L429.96,234.39 L430.33,233.64 L430.72,232.86 L431.14,232.13 L431.60,231.50 L432.11,230.96 L432.64,230.47 L433.21,230.02 L433.80,229.61 L434.43,229.23 L435.10,228.90 L435.75,228.61 L436.37,228.36 L437.03,228.14 L437.78,227.97 L438.68,227.82 L439.80,227.70 L441.30,227.62 L443.17,227.58 L445.19,227.57 L447.15,227.59 L448.83,227.60 L450.00,227.60 L460.10,227.80 L460.40,178.60 L460.90,203.00 L461.40,213.00 L461.90,216.20 L462.60,222.50 L463.50,227.60 L463.60,227.60 L463.85,227.60 L464.10,227.60 L464.35,227.60 L464.60,227.60 L464.85,227.60 L465.10,227.60 L465.35,227.60 L465.60,227.60 L465.85,227.60 L466.10,227.60 L466.35,227.60 L466.60,227.60 L466.85,227.60 L467.10,227.60 L467.35,227.60 L467.60,227.60 L467.85,227.60 L468.10,227.60 L468.35,227.60 L468.60,227.60 L468.85,227.60 L469.10,227.60 L469.35,227.60 L469.60,227.60 L469.85,227.60 L470.10,227.60 L470.35,227.60 L470.60,227.60 L470.85,227.60 L471.10,227.60 L471.35,227.60 L471.60,227.60 L471.85,227.60 L472.10,227.60 L472.35,227.60 L472.60,227.60 L472.85,227.60 L473.10,227.60 L473.35,227.60 L473.60,227.60 L473.85,227.60 L474.10,227.60 L474.35,227.60 L474.60,227.60 L474.85,227.60 L475.10,227.60 L475.35,227.60 L475.60,227.60 L475.85,227.60 L476.10,227.60 L476.35,227.60 L476.60,227.60 L476.85,227.60 L477.10,227.60 L477.35,227.60 L477.60,227.60 L477.85,227.60 L478.10,227.60 L478.35,227.60 L478.60,227.60 L478.85,227.60 L479.10,227.60 L479.35,227.60 L479.60,227.60 L479.85,227.60 L480.10,227.60 L480.35,227.60 L480.60,227.60 L480.85,227.60 L481.10,227.60 L481.35,227.60 L481.60,227.60 L481.85,227.60 L482.10,227.60 L482.35,227.60 L482.60,227.60 L482.85,227.60 L483.10,227.60 L483.35,227.60 L483.60,227.60 L483.85,227.60 L484.10,227.60 L484.35,227.60 L484.60,227.60 L484.85,227.60 L485.10,227.60 L485.35,227.60 L485.60,227.60 L485.85,227.60 L486.10,227.60 L486.35,227.60 L486.60,227.60 L486.85,227.60 L487.10,227.60 L487.35,227.60 L487.60,227.60 L487.85,227.60 L488.10,227.60 L488.35,227.60 L488.60,227.60 L488.85,227.60 L489.10,227.60 L489.35,227.60 L489.60,227.60 L489.85,227.60 L490.10,227.60 L490.35,227.60 L490.60,227.60 L490.85,227.60 L491.10,227.60 L491.35,227.60 L491.60,227.60 L491.85,227.60 L492.10,227.60 L492.35,227.60 L492.60,227.60 L492.85,227.60 L493.10,227.60 L493.35,227.60 L493.60,227.60 L493.85,227.60 L494.10,227.60 L494.35,227.60 L494.60,227.60 L494.85,227.60 L495.10,227.60 L495.35,227.60 L495.60,227.60 L495.85,227.60 L496.10,227.60 L496.35,227.60 L496.60,227.60 L496.85,227.60 L497.10,227.60 L497.35,227.60 L497.60,227.60 L497.85,227.60 L498.10,227.60 L498.35,227.60 L498.60,227.60 L498.85,227.60 L499.10,227.60 L499.35,227.60 L499.60,227.60 L499.85,227.60 L500.10,227.60 L500.35,227.60 L500.60,227.60 L500.85,227.60 L501.10,227.60 L501.35,227.60 L501.60,227.60 L501.85,227.60 L502.10,227.60 L502.35,227.60 L502.60,227.60 L502.85,227.60 L503.10,227.60 L503.35,227.60 L503.60,227.60 L503.85,227.60 L504.10,227.60 L504.35,227.60 L504.60,227.60 L504.85,227.60 L505.10,227.60 L505.35,227.60 L505.60,227.60 L505.85,227.60 L506.10,227.60 L506.35,227.60 L506.60,227.60 L506.85,227.60 L507.10,227.60 L507.35,227.60 L507.60,227.60 L507.85,227.60 L508.10,227.60 L508.35,227.60 L508.60,227.60 L508.85,227.60 L509.10,227.60 L509.35,227.60 L509.60,227.60 L509.85,227.60 L510.10,227.60 L510.35,227.60 L510.60,227.60 L510.85,227.60 L511.10,227.60 L511.35,227.60 L511.60,227.60 L511.85,227.60 L512.10,227.60 L512.35,227.60 L512.60,227.60 L512.85,227.60 L513.10,227.60 L513.35,227.60 L513.60,227.60 L513.85,227.60 L514.10,227.60 L514.35,227.60 L514.60,227.60 L514.85,227.60 L515.10,227.60 L515.35,227.60 L515.60,227.60 L515.85,227.60 L516.10,227.60 L516.35,227.60 L516.60,227.60 L516.85,227.60 L517.10,227.60 L517.35,227.60 L517.60,227.60 L517.85,227.60 L518.10,227.60 L518.35,227.60 L518.60,227.60 L518.85,227.60 L519.10,227.60 L519.35,227.60 L519.60,227.60 L519.85,227.60 L520.10,227.60 L520.35,227.60 L520.60,227.60 L520.85,227.60 L521.10,227.60 L521.35,227.60 L521.60,227.60 L521.85,227.60 L522.10,227.60 L522.35,227.60 L522.60,227.60 L522.85,227.59 L523.10,227.57 L523.35,227.51 L523.60,227.31 L523.85,226.83 L524.10,225.80 L524.35,223.95 L524.60,221.16 L524.85,217.71 L525.10,214.37 L525.35,212.19 L525.60,211.97 L525.85,213.81 L526.10,217.00 L526.35,220.50 L526.60,223.47 L526.85,225.50 L527.10,226.67 L527.35,227.24 L527.60,227.48 L527.85,227.57 L528.10,227.59 L528.35,227.60 L528.60,227.60 L528.85,227.60 L529.10,227.60 L529.35,227.60 L529.60,227.60 L529.85,227.60 L530.10,227.60 L530.35,227.60 L530.60,227.60 L530.85,227.60 L531.10,227.60 L531.35,227.60 L531.60,227.60 L531.85,227.60 L532.10,227.60 L532.35,227.60 L532.60,227.60 L532.85,227.60 L533.10,227.60 L533.35,227.60 L533.60,227.60 L533.85,227.60 L534.10,227.60 L534.35,227.60 L534.60,227.60 L534.85,227.60 L535.10,227.60 L535.35,227.60 L535.60,227.60 L535.85,227.60 L536.10,227.60 L536.35,227.60 L536.60,227.60 L536.85,227.60 L537.10,227.60 L537.35,227.60 L537.60,227.60 L537.85,227.60 L538.10,227.60 L538.35,227.60 L538.60,227.60 L538.85,227.60 L539.10,227.60 L539.35,227.60 L539.60,227.60 L539.85,227.60 L540.10,227.60 L540.35,227.59 L540.60,227.58 L540.85,227.52 L541.10,227.34 L541.35,226.86 L541.60,225.78 L541.85,223.70 L542.10,220.34 L542.35,215.80 L542.60,210.92 L542.85,207.07 L543.10,205.60 L543.35,207.07 L543.60,210.92 L543.85,215.80 L544.10,220.34 L544.35,223.70 L544.60,225.78 L544.85,226.86 L545.10,227.34 L545.35,227.52 L545.60,227.58 L545.85,227.59 L546.10,227.60 L546.35,227.60 L546.60,227.60 L546.85,227.60 L547.10,227.60 L547.35,227.60 L547.60,227.60 L547.85,227.60 L548.10,227.60 L548.35,227.60 L548.60,227.60 L548.85,227.60 L549.10,227.60 L549.35,227.60 L549.60,227.60 L549.85,227.60 L550.10,227.60 L550.35,227.60 L550.60,227.60 L550.85,227.60 L551.10,227.60 L551.35,227.60 L551.60,227.60 L551.85,227.60 L552.10,227.60 L552.35,227.60 L552.60,227.60 L552.85,227.60 L553.10,227.60 L553.35,227.60 L553.60,227.60 L553.85,227.60 L554.10,227.60 L554.35,227.60 L554.60,227.60 L554.85,227.60 L555.10,227.59 L555.35,227.55 L555.60,227.42 L555.85,227.05 L556.10,226.17 L556.35,224.36 L556.60,221.22 L556.85,216.64 L557.10,211.23 L557.35,206.30 L557.60,203.47 L557.85,203.80 L558.10,207.16 L558.35,212.32 L558.60,217.65 L558.85,221.96 L559.10,224.82 L559.35,226.41 L559.60,227.15 L559.85,227.45 L560.10,227.56 L560.35,227.59 L560.60,227.60 L560.85,227.60 L561.00,227.40 L561.31,227.10 L561.62,226.23 L561.93,224.85 L562.24,223.07 L562.55,221.05 L562.85,218.95 L563.16,216.93 L563.47,215.15 L563.78,213.77 L564.09,212.90 L564.40,212.60 L564.70,212.89 L565.01,213.74 L565.31,215.09 L565.62,216.81 L565.92,218.78 L566.23,220.82 L566.53,222.79 L566.84,224.51 L567.14,225.86 L567.45,226.71 L567.75,227.00 L568.05,226.71 L568.36,225.86 L568.66,224.51 L568.97,222.79 L569.27,220.82 L569.58,218.78 L569.88,216.81 L570.19,215.09 L570.49,213.74 L570.80,212.89 L571.10,212.60 L571.41,212.90 L571.72,213.78 L572.03,215.16 L572.34,216.88 L572.65,218.80 L572.96,220.72 L573.27,222.44 L573.58,223.82 L573.89,224.70 L574.20,225.00 L574.51,224.60 L574.82,223.44 L575.13,221.64 L575.44,219.37 L575.75,216.85 L576.06,214.33 L576.37,212.06 L576.68,210.26 L576.99,209.10 L577.30,208.70 L577.63,209.26 L577.96,210.87 L578.29,213.27 L578.62,216.10 L578.96,218.93 L579.29,221.33 L579.62,222.94 L579.95,223.50 L580.28,222.86 L580.61,221.05 L580.94,218.35 L581.28,215.15 L581.61,211.95 L581.94,209.25 L582.27,207.44 L582.60,206.80 L582.90,207.15 L583.20,208.18 L583.50,209.77 L583.80,211.78 L584.10,214.00 L584.40,216.22 L584.70,218.23 L585.00,219.82 L585.30,220.85 L585.60,221.20 L585.90,220.85 L586.20,219.82 L586.50,218.23 L586.80,216.22 L587.10,214.00 L587.40,211.78 L587.70,209.77 L588.00,208.18 L588.30,207.15 L588.60,206.80 L588.91,207.35 L589.21,208.91 L589.52,211.24 L589.83,214.00 L590.13,216.76 L590.44,219.09 L590.74,220.65 L591.05,221.20 L591.36,220.65 L591.66,219.09 L591.97,216.76 L592.27,214.00 L592.58,211.24 L592.89,208.91 L593.19,207.35 L593.50,206.80 L593.83,207.25 L594.15,208.54 L594.48,210.47 L594.80,212.75 L595.12,215.03 L595.45,216.96 L595.77,218.25 L596.10,218.70 L596.43,218.25 L596.75,216.96 L597.08,215.03 L597.40,212.75 L597.73,210.47 L598.05,208.54 L598.38,207.25 L598.70,206.80 L599.04,207.13 L599.37,208.04 L599.71,209.37 L600.04,210.83 L600.38,212.16 L600.71,213.07 L601.05,213.40 L601.39,213.09 L601.72,212.21 L602.06,210.95 L602.39,209.55 L602.73,208.29 L603.06,207.41 L603.40,207.10 L603.73,207.29 L604.06,207.83 L604.39,208.62 L604.71,209.48 L605.04,210.27 L605.37,210.81 L605.70,211.00 L606.03,210.83 L606.36,210.34 L606.69,209.64 L607.01,208.86 L607.34,208.16 L607.67,207.67 L608.00,207.50 L608.34,207.57 L608.67,207.78 L609.01,208.08 L609.34,208.42 L609.68,208.72 L610.01,208.93 L610.35,209.00 L610.69,208.90 L611.02,208.62 L611.36,208.22 L611.69,207.78 L612.03,207.38 L612.36,207.10 L612.70,207.00 L613.04,207.02 L613.37,207.09 L613.71,207.19 L614.04,207.31 L614.38,207.41 L614.71,207.48 L615.05,207.50 L615.39,207.44 L615.72,207.27 L616.06,207.03 L616.39,206.77 L616.73,206.53 L617.06,206.36 L617.40,206.30 L617.70,206.29 L618.00,206.28 L618.30,206.26 L618.60,206.23 L618.90,206.19 L619.20,206.15 L619.50,206.11 L619.80,206.08 L620.10,206.04 L620.40,206.02 L620.70,206.01 L621.00,206.00 L640.00,205.10 L657.90,204.20 L658.60,215.00 L659.20,226.60 L682.00,227.20" fill="none" stroke="#454545" stroke-width="1.6" stroke-linejoin="round" stroke-linecap="round" />
<line x1="611.0" y1="37.7" x2="642.9" y2="37.7" stroke="#5aa45e" stroke-width="1.5" />
<text x="646.5" y="42.2" font-size="14.2" fill="#3f8c46" stroke="#3f8c46" stroke-width="0.25" text-anchor="start" >8 A</text>
<line x1="611.0" y1="88.3" x2="642.9" y2="88.3" stroke="#3c5cb0" stroke-width="1.5" />
<text x="646.5" y="93.3" font-size="14.2" fill="#2f4aa2" stroke="#2f4aa2" stroke-width="0.25" text-anchor="start" >30 A</text>
<line x1="611.0" y1="139.0" x2="642.9" y2="139.0" stroke="#d23232" stroke-width="1.5" />
<text x="646.5" y="144.0" font-size="14.2" fill="#d02828" stroke="#d02828" stroke-width="0.25" text-anchor="start" >50 A</text>
<line x1="611.0" y1="190.9" x2="642.9" y2="190.9" stroke="#454545" stroke-width="1.5" />
<text x="646.5" y="195.9" font-size="14.2" fill="#1a1a1a" stroke="#1a1a1a" stroke-width="0.25" text-anchor="start" >70 A</text>
<line x1="409.0" y1="117.6" x2="421.1" y2="117.6" stroke="#3c5cb0" stroke-width="0.9" stroke-opacity="0.75"/>
<path d="M406.0,117.6 L412.2,115.89999999999999 L412.2,119.3 Z" fill="#3c5cb0"/>
<line x1="407.8" y1="218.3" x2="420.2" y2="218.3" stroke="#222222" stroke-width="0.9" stroke-opacity="0.75"/>
<path d="M404.8,218.3 L411.0,216.60000000000002 L411.0,220.0 Z" fill="#222222"/>
<line x1="662.0" y1="57.3" x2="676.3" y2="57.3" stroke="#5aa45e" stroke-width="0.9" stroke-opacity="0.75"/>
<path d="M679.3,57.3 L673.3,55.599999999999994 L673.3,59.0 Z" fill="#5aa45e"/>
<line x1="661.0" y1="166.1" x2="675.4" y2="166.1" stroke="#d23232" stroke-width="0.9" stroke-opacity="0.75"/>
<path d="M678.4,166.1 L672.4,164.4 L672.4,167.79999999999998 Z" fill="#d23232"/>
<text x="397.5" y="20.4" font-size="13.9" fill="#1a1a1a" stroke="#1a1a1a" stroke-width="0.25" text-anchor="start" >(b)</text>
<line x1="682.0" y1="2.7" x2="682.0" y2="254.0" stroke="#6a6a6a" stroke-width="2.0" />
<path d="M682.0,3.5 L395.3,3.5 L395.3,253.2 L682.0,253.2" fill="none" stroke="#111111" stroke-width="1.6"/>
<line x1="395.3" y1="78.2" x2="395.3" y2="128.1" stroke="#3c5cb0" stroke-width="1.6" />
<line x1="682.0" y1="28.3" x2="682.0" y2="78.2" stroke="#5aa45e" stroke-width="1.6" />
<line x1="682.0" y1="128.1" x2="682.0" y2="178.0" stroke="#d23232" stroke-width="1.6" />
<line x1="395.3" y1="28.3" x2="400.3" y2="28.3" stroke="#111111" stroke-width="1.2" />
<line x1="682.0" y1="28.3" x2="677.0" y2="28.3" stroke="#111111" stroke-width="1.2" />
<line x1="395.3" y1="78.2" x2="400.3" y2="78.2" stroke="#111111" stroke-width="1.2" />
<line x1="682.0" y1="78.2" x2="677.0" y2="78.2" stroke="#111111" stroke-width="1.2" />
<line x1="395.3" y1="128.1" x2="400.3" y2="128.1" stroke="#111111" stroke-width="1.2" />
<line x1="682.0" y1="128.1" x2="677.0" y2="128.1" stroke="#111111" stroke-width="1.2" />
<line x1="395.3" y1="178.0" x2="400.3" y2="178.0" stroke="#111111" stroke-width="1.2" />
<line x1="682.0" y1="178.0" x2="677.0" y2="178.0" stroke="#111111" stroke-width="1.2" />
<line x1="395.3" y1="227.8" x2="400.3" y2="227.8" stroke="#111111" stroke-width="1.2" />
<line x1="682.0" y1="227.8" x2="677.0" y2="227.8" stroke="#111111" stroke-width="1.2" />
<line x1="395.3" y1="53.2" x2="397.90000000000003" y2="53.2" stroke="#111111" stroke-width="1.2" />
<line x1="682.0" y1="53.2" x2="679.4" y2="53.2" stroke="#111111" stroke-width="1.2" />
<line x1="395.3" y1="103.1" x2="397.90000000000003" y2="103.1" stroke="#111111" stroke-width="1.2" />
<line x1="682.0" y1="103.1" x2="679.4" y2="103.1" stroke="#111111" stroke-width="1.2" />
<line x1="395.3" y1="153.1" x2="397.90000000000003" y2="153.1" stroke="#111111" stroke-width="1.2" />
<line x1="682.0" y1="153.1" x2="679.4" y2="153.1" stroke="#111111" stroke-width="1.2" />
<line x1="395.3" y1="203.0" x2="397.90000000000003" y2="203.0" stroke="#111111" stroke-width="1.2" />
<line x1="682.0" y1="203.0" x2="679.4" y2="203.0" stroke="#111111" stroke-width="1.2" />
<line x1="405.15" y1="253.2" x2="405.15" y2="258.2" stroke="#111111" stroke-width="1.2" />
<line x1="405.15" y1="3.5" x2="405.15" y2="8.5" stroke="#111111" stroke-width="1.2" />
<line x1="417.7375" y1="253.2" x2="417.7375" y2="255.79999999999998" stroke="#111111" stroke-width="1.2" />
<line x1="417.7375" y1="3.5" x2="417.7375" y2="6.1" stroke="#111111" stroke-width="1.2" />
<line x1="430.325" y1="253.2" x2="430.325" y2="255.79999999999998" stroke="#111111" stroke-width="1.2" />
<line x1="430.325" y1="3.5" x2="430.325" y2="6.1" stroke="#111111" stroke-width="1.2" />
<line x1="442.9125" y1="253.2" x2="442.9125" y2="255.79999999999998" stroke="#111111" stroke-width="1.2" />
<line x1="442.9125" y1="3.5" x2="442.9125" y2="6.1" stroke="#111111" stroke-width="1.2" />
<line x1="455.5" y1="253.2" x2="455.5" y2="258.2" stroke="#111111" stroke-width="1.2" />
<line x1="455.5" y1="3.5" x2="455.5" y2="8.5" stroke="#111111" stroke-width="1.2" />
<line x1="468.0875" y1="253.2" x2="468.0875" y2="255.79999999999998" stroke="#111111" stroke-width="1.2" />
<line x1="468.0875" y1="3.5" x2="468.0875" y2="6.1" stroke="#111111" stroke-width="1.2" />
<line x1="480.675" y1="253.2" x2="480.675" y2="255.79999999999998" stroke="#111111" stroke-width="1.2" />
<line x1="480.675" y1="3.5" x2="480.675" y2="6.1" stroke="#111111" stroke-width="1.2" />
<line x1="493.2625" y1="253.2" x2="493.2625" y2="255.79999999999998" stroke="#111111" stroke-width="1.2" />
<line x1="493.2625" y1="3.5" x2="493.2625" y2="6.1" stroke="#111111" stroke-width="1.2" />
<line x1="505.85" y1="253.2" x2="505.85" y2="258.2" stroke="#111111" stroke-width="1.2" />
<line x1="505.85" y1="3.5" x2="505.85" y2="8.5" stroke="#111111" stroke-width="1.2" />
<line x1="518.4375" y1="253.2" x2="518.4375" y2="255.79999999999998" stroke="#111111" stroke-width="1.2" />
<line x1="518.4375" y1="3.5" x2="518.4375" y2="6.1" stroke="#111111" stroke-width="1.2" />
<line x1="531.025" y1="253.2" x2="531.025" y2="255.79999999999998" stroke="#111111" stroke-width="1.2" />
<line x1="531.025" y1="3.5" x2="531.025" y2="6.1" stroke="#111111" stroke-width="1.2" />
<line x1="543.6125" y1="253.2" x2="543.6125" y2="255.79999999999998" stroke="#111111" stroke-width="1.2" />
<line x1="543.6125" y1="3.5" x2="543.6125" y2="6.1" stroke="#111111" stroke-width="1.2" />
<line x1="556.2" y1="253.2" x2="556.2" y2="258.2" stroke="#111111" stroke-width="1.2" />
<line x1="556.2" y1="3.5" x2="556.2" y2="8.5" stroke="#111111" stroke-width="1.2" />
<line x1="568.7875" y1="253.2" x2="568.7875" y2="255.79999999999998" stroke="#111111" stroke-width="1.2" />
<line x1="568.7875" y1="3.5" x2="568.7875" y2="6.1" stroke="#111111" stroke-width="1.2" />
<line x1="581.375" y1="253.2" x2="581.375" y2="255.79999999999998" stroke="#111111" stroke-width="1.2" />
<line x1="581.375" y1="3.5" x2="581.375" y2="6.1" stroke="#111111" stroke-width="1.2" />
<line x1="593.9625" y1="253.2" x2="593.9625" y2="255.79999999999998" stroke="#111111" stroke-width="1.2" />
<line x1="593.9625" y1="3.5" x2="593.9625" y2="6.1" stroke="#111111" stroke-width="1.2" />
<line x1="606.55" y1="253.2" x2="606.55" y2="258.2" stroke="#111111" stroke-width="1.2" />
<line x1="606.55" y1="3.5" x2="606.55" y2="8.5" stroke="#111111" stroke-width="1.2" />
<line x1="619.1375" y1="253.2" x2="619.1375" y2="255.79999999999998" stroke="#111111" stroke-width="1.2" />
<line x1="619.1375" y1="3.5" x2="619.1375" y2="6.1" stroke="#111111" stroke-width="1.2" />
<line x1="631.725" y1="253.2" x2="631.725" y2="255.79999999999998" stroke="#111111" stroke-width="1.2" />
<line x1="631.725" y1="3.5" x2="631.725" y2="6.1" stroke="#111111" stroke-width="1.2" />
<line x1="644.3125" y1="253.2" x2="644.3125" y2="255.79999999999998" stroke="#111111" stroke-width="1.2" />
<line x1="644.3125" y1="3.5" x2="644.3125" y2="6.1" stroke="#111111" stroke-width="1.2" />
<line x1="656.9" y1="253.2" x2="656.9" y2="258.2" stroke="#111111" stroke-width="1.2" />
<line x1="656.9" y1="3.5" x2="656.9" y2="8.5" stroke="#111111" stroke-width="1.2" />
<line x1="669.4875" y1="253.2" x2="669.4875" y2="255.79999999999998" stroke="#111111" stroke-width="1.2" />
<line x1="669.4875" y1="3.5" x2="669.4875" y2="6.1" stroke="#111111" stroke-width="1.2" />
<line x1="682.075" y1="253.2" x2="682.075" y2="255.79999999999998" stroke="#111111" stroke-width="1.2" />
<line x1="682.075" y1="3.5" x2="682.075" y2="6.1" stroke="#111111" stroke-width="1.2" />
<text x="405.15" y="272.1" font-size="11.9" fill="#1a1a1a" stroke="#1a1a1a" stroke-width="0.25" text-anchor="middle" >-100</text>
<text x="455.5" y="272.1" font-size="11.9" fill="#1a1a1a" stroke="#1a1a1a" stroke-width="0.25" text-anchor="middle" >0</text>
<text x="505.85" y="272.1" font-size="11.9" fill="#1a1a1a" stroke="#1a1a1a" stroke-width="0.25" text-anchor="middle" >100</text>
<text x="556.2" y="272.1" font-size="11.9" fill="#1a1a1a" stroke="#1a1a1a" stroke-width="0.25" text-anchor="middle" >200</text>
<text x="606.55" y="272.1" font-size="11.9" fill="#1a1a1a" stroke="#1a1a1a" stroke-width="0.25" text-anchor="middle" >300</text>
<text x="656.9" y="272.1" font-size="11.9" fill="#1a1a1a" stroke="#1a1a1a" stroke-width="0.25" text-anchor="middle" >400</text>
<text x="538.4" y="291.0" font-size="14.0" fill="#1a1a1a" stroke="#1a1a1a" stroke-width="0.25" text-anchor="middle" >t [&#956;s]</text>
<text transform="translate(363.0,115.6) rotate(-90)" font-size="13.88" fill="#1a1a1a" stroke="#1a1a1a" stroke-width="0.25" text-anchor="middle">plasma potential [V]</text>
<text x="390.1" y="84.0" font-size="11.7" fill="#2f4aa2" stroke="#2f4aa2" stroke-width="0.25" text-anchor="end" >100</text>
<text x="390.1" y="132.2" font-size="11.7" fill="#2f4aa2" stroke="#2f4aa2" stroke-width="0.25" text-anchor="end" >0</text>
<text x="390.1" y="183.0" font-size="11.7" fill="#1a1a1a" stroke="#1a1a1a" stroke-width="0.25" text-anchor="end" >100</text>
<text x="390.1" y="231.2" font-size="11.7" fill="#1a1a1a" stroke="#1a1a1a" stroke-width="0.25" text-anchor="end" >0</text>
<text x="685.7" y="33.9" font-size="11.7" fill="#3f8c46" stroke="#3f8c46" stroke-width="0.25" text-anchor="start" >100</text>
<text x="685.7" y="83.5" font-size="11.7" fill="#3f8c46" stroke="#3f8c46" stroke-width="0.25" text-anchor="start" >0</text>
<text x="685.7" y="134.0" font-size="11.7" fill="#d02828" stroke="#d02828" stroke-width="0.25" text-anchor="start" >100</text>
<text x="685.7" y="183.2" font-size="11.7" fill="#d02828" stroke="#d02828" stroke-width="0.25" text-anchor="start" >0</text>
</svg></body></html>
